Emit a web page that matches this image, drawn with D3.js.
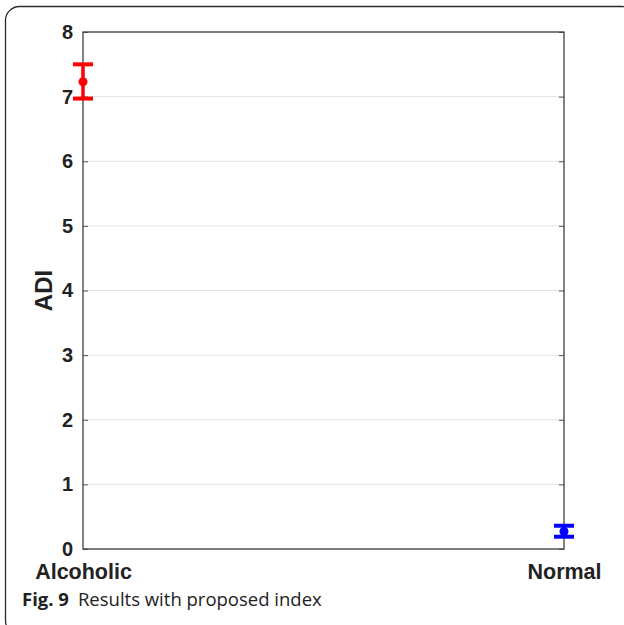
<!DOCTYPE html>
<html lang="en">
<head>
    <meta charset="UTF-8">
    <title>ADI error bars</title>
    <script src="https://d3js.org/d3.v7.min.js"></script>
    <style>
        body { margin: 0; background: #fff; }
        svg { display: block; }
    </style>
</head>
<body>
    <svg width="624" height="625"></svg>
    <script>
        // values
        const categories = ["Alcoholic", "Normal"];
        const means = [7.23, 0.27];
        const lower = [6.97, 0.19];
        const upper = [7.50, 0.36];
        const colors = ["#ff0000", "#0000ff"];
        const yTicks = [0, 1, 2, 3, 4, 5, 6, 7, 8];

        const svg = d3.select("svg"),
              margin = {top: 32, right: 60, bottom: 76, left: 83},
              width = +svg.attr("width") - margin.left - margin.right,
              height = +svg.attr("height") - margin.top - margin.bottom;

        // outer rounded frame (runs off the right/bottom edge)
        svg.append("rect")
           .attr("x", 5.5).attr("y", 6.5)
           .attr("width", 630).attr("height", 628)
           .attr("rx", 14)
           .attr("fill", "none")
           .attr("stroke", "#2b2b2b")
           .attr("stroke-width", 1.3);

        const x = d3.scalePoint()
                    .domain(categories)
                    .range([0, width])
                    .padding(0);

        const y = d3.scaleLinear()
                    .domain([0, 8])
                    .range([height, 0]);

        const g = svg.append("g")
                     .attr("transform", `translate(${margin.left},${margin.top})`);

        // gridlines
        g.append("g")
         .selectAll("line")
         .data(yTicks)
         .join("line")
         .attr("x1", 0).attr("x2", width)
         .attr("y1", d => y(d)).attr("y2", d => y(d))
         .attr("stroke", "#e3e3e3")
         .attr("stroke-width", 1);

        // left axis, ticks inward like matlab
        const yAxis = g.append("g")
         .call(d3.axisLeft(y).tickValues(yTicks).tickSize(-5).tickPadding(10));
        yAxis.select(".domain").remove();
        yAxis.selectAll("line").attr("stroke", "#555");
        yAxis.selectAll("text")
             .attr("font-family", "'Liberation Sans', Arial, sans-serif")
             .attr("font-weight", "bold")
             .attr("font-size", 20)
             .attr("fill", "#222");

        // right side ticks
        const yRight = g.append("g")
         .attr("transform", `translate(${width},0)`)
         .call(d3.axisRight(y).tickValues(yTicks).tickSize(-5).tickFormat(""));
        yRight.select(".domain").remove();
        yRight.selectAll("line").attr("stroke", "#555");

        // bottom axis labels
        const xAxis = g.append("g")
         .attr("transform", `translate(0,${height})`)
         .call(d3.axisBottom(x).tickSize(0).tickPadding(15));
        xAxis.select(".domain").remove();
        xAxis.selectAll("text")
             .attr("font-family", "'Liberation Sans', Arial, sans-serif")
             .attr("font-weight", "bold")
             .attr("font-size", 21.5)
             .attr("fill", "#222");

        // box
        g.append("rect")
         .attr("x", 0).attr("y", 0)
         .attr("width", width).attr("height", height)
         .attr("fill", "none")
         .attr("stroke", "#404040")
         .attr("stroke-width", 1.3);

        // y label
        g.append("text")
         .attr("transform", `translate(-31,${height / 2}) rotate(-90)`)
         .attr("text-anchor", "middle")
         .attr("font-family", "'Liberation Sans', Arial, sans-serif")
         .attr("font-weight", "bold")
         .attr("font-size", 24)
         .attr("fill", "#222")
         .text("ADI");

        // error bars
        const bars = g.append("g")
         .selectAll("g")
         .data(categories)
         .join("g");

        bars.append("line")
            .attr("x1", d => x(d)).attr("x2", d => x(d))
            .attr("y1", (d, i) => y(upper[i])).attr("y2", (d, i) => y(lower[i]))
            .attr("stroke", (d, i) => colors[i])
            .attr("stroke-width", 3.5);

        ["top", "bottom"].forEach(side => {
            bars.append("line")
                .attr("x1", d => x(d) - 10).attr("x2", d => x(d) + 10)
                .attr("y1", (d, i) => y(side === "top" ? upper[i] : lower[i]))
                .attr("y2", (d, i) => y(side === "top" ? upper[i] : lower[i]))
                .attr("stroke", (d, i) => colors[i])
                .attr("stroke-width", 4);
        });

        bars.append("circle")
            .attr("cx", d => x(d))
            .attr("cy", (d, i) => y(means[i]))
            .attr("r", 4.5)
            .attr("fill", (d, i) => colors[i]);

        // caption
        const cap = svg.append("text")
           .attr("x", 22).attr("y", 606)
           .attr("font-family", "'Open Sans', sans-serif")
           .attr("font-size", 18.5)
           .attr("fill", "#222");
        cap.append("tspan").attr("font-weight", "bold").text("Fig. 9");
        cap.append("tspan").attr("dx", 9).text("Results with proposed index");
    </script>
</body>
</html>
